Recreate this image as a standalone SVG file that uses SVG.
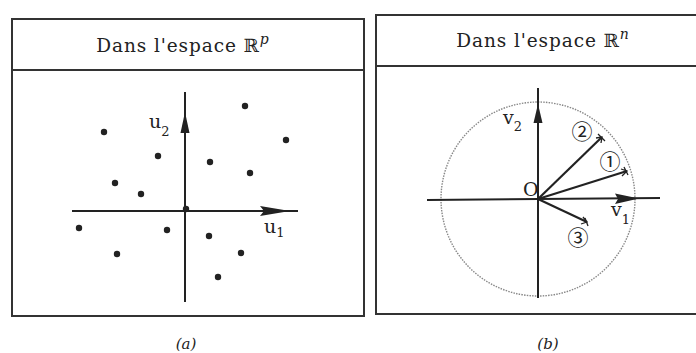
<svg xmlns="http://www.w3.org/2000/svg" width="696" height="353" viewBox="0 0 696 353">
<style>
.box{fill:none;stroke:#333;stroke-width:2}
.axis{stroke:#222;stroke-width:2;fill:none}
.vec{stroke:#222;stroke-width:2.2;fill:none}
.head{fill:#222;stroke:none}
.dot{fill:#222}
.title{font-family:"DejaVu Serif","Liberation Serif",serif;font-size:18.5px;fill:#222;text-anchor:middle;letter-spacing:0.9px}
.lab{font-family:"DejaVu Serif","Liberation Serif",serif;font-size:19px;fill:#222}
.sub{font-family:"DejaVu Serif","Liberation Serif",serif;font-size:13px;fill:#222}
.cap{font-family:"DejaVu Serif","Liberation Serif",serif;font-size:15px;font-style:italic;fill:#222;text-anchor:middle}
.num{font-family:"Noto Sans CJK JP","DejaVu Sans",sans-serif;font-size:21px;fill:#222;text-anchor:middle}
.tip{stroke:#222;stroke-width:1.3;fill:none}
</style>
<rect width="696" height="353" fill="#fff"/>

<g id="panel-a">
  <rect class="box" x="12" y="19" width="352" height="297"/>
  <line class="box" x1="12" y1="70" x2="364" y2="70"/>
  <text class="title" x="183" y="52">Dans l'espace ℝ<tspan font-style="italic" font-size="14" dy="-8">p</tspan></text>
</g>

<g id="panel-b">
  <path class="box" d="M700 15 H376 V314 H700"/>
  <line class="box" x1="376" y1="66" x2="700" y2="66"/>
  <text class="title" x="543" y="47">Dans l'espace ℝ<tspan font-style="italic" font-size="14" dy="-8">n</tspan></text>
</g>

<g id="axes-a">
  <line class="axis" x1="185" y1="92" x2="185" y2="302"/>
  <polygon class="head" points="185,112 180.5,133 189.5,133"/>
  <line class="axis" x1="72" y1="211" x2="298" y2="211"/>
  <polygon class="head" points="290,211 260,206 264,211 260,216"/>
  <text class="lab" x="149" y="128">u<tspan class="sub" dy="8">2</tspan></text>
  <text class="lab" x="264" y="233">u<tspan class="sub" dy="4">1</tspan></text>
</g>

<g id="points-a">
  <circle class="dot" cx="245" cy="106" r="3.2"/>
  <circle class="dot" cx="104" cy="132" r="3.2"/>
  <circle class="dot" cx="286" cy="140" r="3.2"/>
  <circle class="dot" cx="158" cy="156" r="3.2"/>
  <circle class="dot" cx="210" cy="162" r="3.2"/>
  <circle class="dot" cx="250" cy="173" r="3.2"/>
  <circle class="dot" cx="115" cy="183" r="3.2"/>
  <circle class="dot" cx="141" cy="194" r="3.2"/>
  <circle class="dot" cx="186" cy="209" r="3.2"/>
  <circle class="dot" cx="79" cy="228" r="3.2"/>
  <circle class="dot" cx="167" cy="230" r="3.2"/>
  <circle class="dot" cx="209" cy="236" r="3.2"/>
  <circle class="dot" cx="117" cy="254" r="3.2"/>
  <circle class="dot" cx="241" cy="253" r="3.2"/>
  <circle class="dot" cx="218" cy="277" r="3.2"/>
</g>

<g id="circle-b">
  <circle cx="538" cy="199" r="97" fill="none" stroke="#888" stroke-width="1.4" stroke-dasharray="1.5 1.2"/>
</g>

<g id="axes-b">
  <line class="axis" x1="538" y1="88" x2="538" y2="298"/>
  <polygon class="head" points="538,104 533.5,123 542.5,123"/>
  <line class="axis" x1="427" y1="200" x2="660" y2="198"/>
  <polygon class="head" points="639,198.5 615,193.5 618,199 615,204"/>
  <text class="lab" x="503" y="124">v<tspan class="sub" dy="7">2</tspan></text>
  <text class="lab" x="611" y="216">v<tspan class="sub" dy="8">1</tspan></text>
  <text class="lab" x="523" y="196" font-size="13">O</text>
</g>

<g id="connectors">
  <line class="vec" x1="538" y1="199" x2="602" y2="137"/>
  <path class="tip" d="M596 138 L602 137 L601 143 M598 134 L605 141"/>
  <line class="vec" x1="538" y1="199" x2="627" y2="171"/>
  <path class="tip" d="M621 169 L627 171 L622 176 M624 167 L628 175"/>
  <line class="vec" x1="538" y1="199" x2="587" y2="222"/>
  <path class="tip" d="M583 217 L587 222 L581 224 M585 218 L588 226"/>
</g>

<g id="labels-b">
  <text class="num" x="582" y="139">②</text>
  <text class="num" x="610" y="169">①</text>
  <text class="num" x="578" y="245">③</text>
</g>

<g id="captions">
  <text class="cap" x="186" y="349">(a)</text>
  <text class="cap" x="548" y="349">(b)</text>
</g>
</svg>
